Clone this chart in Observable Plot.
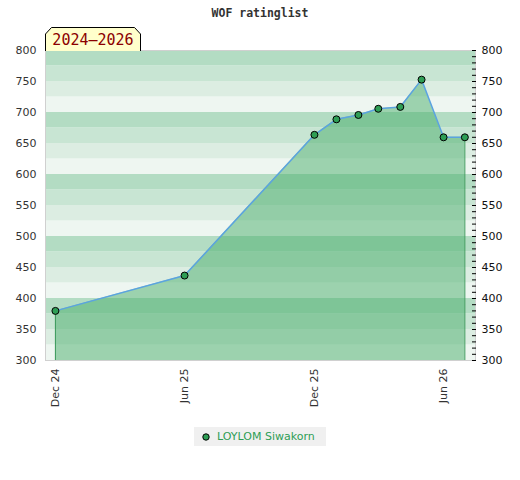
<!DOCTYPE html>
<html>
<head>
<meta charset="utf-8">
<script src="https://cdn.jsdelivr.net/npm/d3@7"></script>
<script src="https://cdn.jsdelivr.net/npm/@observablehq/plot@0.6"></script>
<style>
  body { margin: 0; background: #fff; }
  #wrap { position: relative; width: 520px; height: 480px; font-family: "DejaVu Sans", sans-serif; }
  #title { position: absolute; top: 6px; left: 0; width: 520px; text-align: center; font-family: "DejaVu Sans Mono", monospace; font-weight: bold; font-size: 11.5px; color: #333; }
  #tag { position: absolute; left: 45px; top: 27px; width: 96px; height: 24px; z-index: 2; }
  #tag svg { position: absolute; left: 0; top: 0; }
  #tag span { position: absolute; left: 0; top: 0; width: 96px; text-align: center; font-family: "DejaVu Sans Mono", monospace; font-size: 15px; color: #8b0000; line-height: 26px; }
  #chart { position: absolute; top: 0; left: 0; }
  #legend { position: absolute; top: 427px; left: 194px; width: 132px; height: 19px; background: #f0f0f0; font-size: 11px; color: #2e9e55; display: flex; align-items: center; }
  #legend svg { margin-left: 8px; margin-right: 7px; }
</style>
</head>
<body>
<div id="wrap">
  <div id="chart"></div>
  <div id="title">WOF ratinglist</div>
  <div id="tag"><svg width="96" height="24"><path d="M0.5,24V7L6.5,0.5H89.5L95.5,7V24" fill="#ffffcc" stroke="#000" stroke-width="1"/></svg><span id="tagText">2024–2026</span></div>
  <div id="legend"><svg width="8" height="8"><circle cx="4" cy="4" r="3.2" fill="#2e9e55" stroke="#000" stroke-width="1"/></svg><span id="legendText"></span></div>
</div>
<script>
const playerName = "LOYLOM Siwakorn";
const dates = ["2024-12-01","2025-06-01","2025-12-01","2026-01-01","2026-02-01","2026-03-01","2026-04-01","2026-05-01","2026-06-01","2026-07-01"];
const ratings = [380, 437, 664, 689, 696, 706, 709, 753, 660, 660];
const xTickDates = ["2024-12-01","2025-06-01","2025-12-01","2026-06-01"];
const yMajorTicks = [300, 350, 400, 450, 500, 550, 600, 650, 700, 750, 800];
const yMinorTicks = d3.range(300, 801, 10);
const bandStarts = d3.range(300, 800, 25);
const bandColors = ["#b3dcc3", "#c8e5d3", "#dcede2", "#eef6f1"];

document.getElementById("legendText").textContent = playerName;

const data = dates.map((d, i) => ({date: new Date(d + "T00:00:00Z"), rating: ratings[i]}));
const ends = [data[0], data[data.length - 1]];
const bands = bandStarts.map(b => ({lo: b, hi: b + 25, color: bandColors[((800 - (b + 25)) / 25) % 4]}));
const fmt = d3.utcFormat("%b %y");

const chart = Plot.plot({
  width: 520,
  height: 420,
  marginTop: 50,
  marginBottom: 60,
  marginLeft: 45,
  marginRight: 45,
  style: {fontFamily: "DejaVu Sans, sans-serif", fontSize: "11px", color: "#333", background: "transparent"},
  x: {type: "utc", domain: [new Date("2024-11-17T00:00:00Z"), new Date("2026-07-16T00:00:00Z")]},
  y: {domain: [300, 800]},
  marks: [
    Plot.rect(bands, {y1: "lo", y2: "hi", fill: "color"}),
    Plot.areaY(data, {x: "date", y1: 300, y2: "rating", fill: "#4aae6b", fillOpacity: 0.5}),
    Plot.ruleX(ends, {x: "date", y1: 300, y2: "rating", stroke: "#3d9a5c", strokeWidth: 1}),
    Plot.line(data, {x: "date", y: "rating", stroke: "#5ba3e0", strokeWidth: 1.5}),
    Plot.frame({stroke: "#d0d0d0"}),
    Plot.dot(data, {x: "date", y: "rating", r: 3.5, fill: "#2e9e55", stroke: "#000", strokeWidth: 1}),
    Plot.axisY({anchor: "left", ticks: yMajorTicks, tickSize: 0, tickPadding: 9, label: null, fill: "#333"}),
    Plot.axisY({anchor: "right", ticks: yMajorTicks, tickSize: 0, tickPadding: 6, label: null, fill: "#111"}),
    Plot.axisY({anchor: "right", ticks: yMinorTicks, tickSize: 4, dx: -4, text: null, label: null, stroke: "#000"}),
    Plot.axisX({ticks: xTickDates.map(d => new Date(d + "T00:00:00Z")), tickFormat: fmt, tickRotate: -90, tickSize: 0, tickPadding: 8, label: null, fill: "#333"})
  ]
});
document.getElementById("chart").appendChild(chart);
</script>
</body>
</html>
